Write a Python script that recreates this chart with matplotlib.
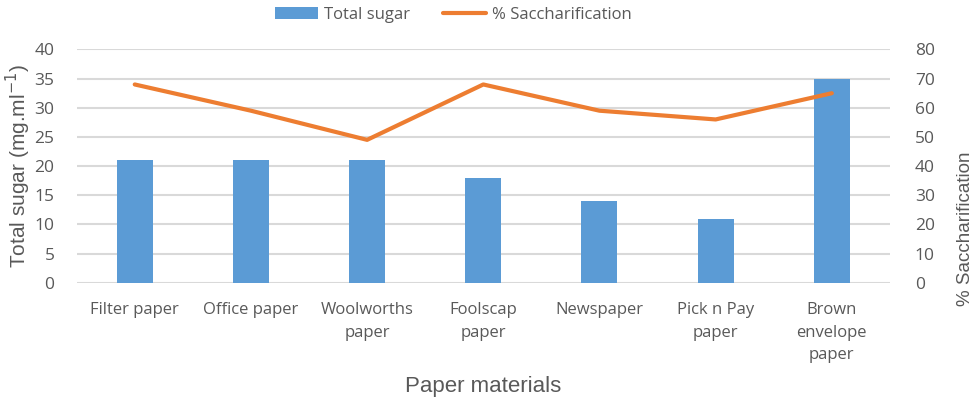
import matplotlib.pyplot as plt
import numpy as np

materials = ['Filter paper', 'Office paper', 'Woolworths\npaper', 'Foolscap\npaper',
             'Newspaper', 'Pick n Pay\npaper', 'Brown\nenvelope\npaper']
total_sugar = [21, 21, 21, 18, 14, 11, 35]
saccharification = [68, 59, 49, 68, 59, 56, 65]

grey = '#595959'
blue = '#5B9BD5'
orange = '#ED7D31'
tick_font = 'Open Sans'
title_font = 'Liberation Sans'

fig = plt.figure(figsize=(9.79, 4.01), dpi=100)
ax = fig.add_axes([0.0783, 0.295, 0.8307, 0.5816])
ax2 = ax.twinx()

x = np.arange(len(materials))
ax.bar(x, total_sugar, width=0.31, color=blue, zorder=2, label='Total sugar')
ax2.plot(x, saccharification, color=orange, lw=3, solid_capstyle='round', label='% Saccharification')

ax.set_xlim(-0.5, len(materials) - 0.5)
ax.set_ylim(0, 40)
ax.set_yticks(range(0, 41, 5))
ax2.set_ylim(0, 80)
ax2.set_yticks(range(0, 81, 10))
ax.grid(axis='y', color='#D9D9D9', lw=1.5, zorder=0)
ax.set_axisbelow(True)

for a in (ax, ax2):
    for s in a.spines.values():
        s.set_visible(False)
    a.tick_params(length=0, colors=grey)
    for t in a.get_yticklabels():
        t.set_family(tick_font)
        t.set_fontsize(12.5)
ax.tick_params(axis='y', pad=16)
ax2.tick_params(axis='y', pad=18)

ax.set_xticks(x)
ax.set_xticklabels(materials, family=tick_font, fontsize=12, linespacing=1.55, va='top')
ax.tick_params(axis='x', pad=14)

ax.set_ylabel('Total sugar (mg.ml$^{-1}$)', family=title_font, fontsize=15, color=grey, labelpad=1)
ax2.set_ylabel('% Saccharification', family=title_font, fontsize=13.5, color=grey)
# Excel placed this title lower than the axis centre
ax2.yaxis.set_label_coords(1.083, 0.23)
ax.set_xlabel('Paper materials', family=title_font, fontsize=16, color=grey, labelpad=9)

h1, l1 = ax.get_legend_handles_labels()
h2, l2 = ax2.get_legend_handles_labels()
fig.legend(h1 + h2, l1 + l2, loc='upper center', bbox_to_anchor=(0.463, 1.02), ncol=2,
           frameon=False, prop={'family': tick_font, 'size': 12}, labelcolor=grey,
           handlelength=2.6, columnspacing=2.0, handletextpad=0.35)

fig.savefig('out.png', dpi=100)
